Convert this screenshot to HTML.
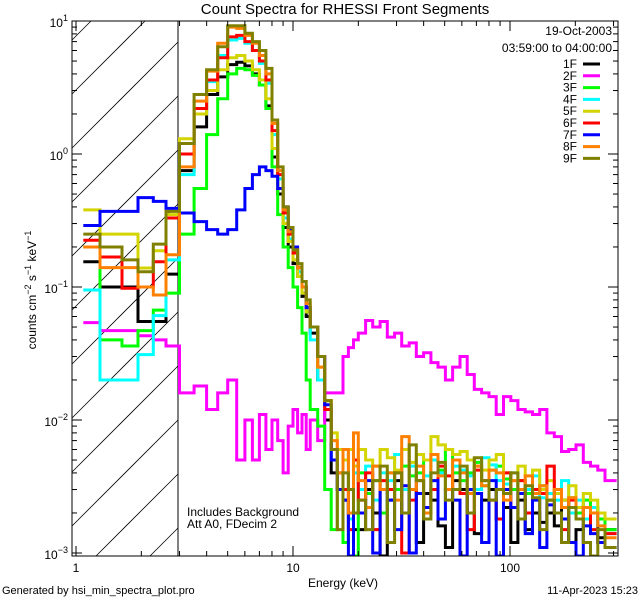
<!DOCTYPE html>
<html><head><meta charset="utf-8"><style>
html,body{margin:0;padding:0;background:#fff;width:640px;height:600px;overflow:hidden;}
svg{display:block;font-family:"Liberation Sans",sans-serif;}
</style></head><body>
<svg id="chart" width="640" height="600" viewBox="0 0 640 600" xmlns="http://www.w3.org/2000/svg">
<rect width="640" height="600" fill="#fff"/>
<defs><clipPath id="plotclip"><rect x="72" y="21" width="546" height="535"/></clipPath></defs>
<text x="345" y="14" font-size="15" text-anchor="middle">Count Spectra for RHESSI Front Segments</text>
<g id="hatch"></g>
<line x1="178" y1="21" x2="178" y2="556" stroke="#000" stroke-width="1"/>
<g id="series" clip-path="url(#plotclip)"></g>
<g id="axes"></g>
<text x="343" y="587" font-size="12" text-anchor="middle">Energy (keV)</text>
<text transform="translate(36,290) rotate(-90)" font-size="12" text-anchor="middle">counts cm<tspan dy="-5" font-size="9">−2</tspan><tspan dy="5"> s</tspan><tspan dy="-5" font-size="9">−1</tspan><tspan dy="5"> keV</tspan><tspan dy="-5" font-size="9">−1</tspan></text>
<text x="187" y="516" font-size="12">Includes Background</text>
<text x="187" y="528" font-size="12">Att A0, FDecim 2</text>
<text x="612" y="35" font-size="12" text-anchor="end">19-Oct-2003</text>
<text x="612" y="52" font-size="12" text-anchor="end">03:59:00 to 04:00:00</text>
<g id="legend"></g>
<text x="2" y="594" font-size="11">Generated by hsi_min_spectra_plot.pro</text>
<text x="638" y="594" font-size="11" text-anchor="end">11-Apr-2023 15:23</text>
</svg>
<script>
const edges=[1.08,1.29,1.63,1.93,2.27,2.6,3.0,3.5,4,4.5,5,5.5,6,6.5,7,7.5,8,8.5,9,9.5,10,10.5,11,11.5,12,13,14,15,16,17,18,19,20,21.6,23.3,25.2,27.2,29.4,31.7,34.3,37,40,43.2,46.6,50.4,54.4,58.8,63.5,68.5,74,80,86.4,93.3,100.8,108.8,117.5,127,137,148,160,172.7,186.5,201.5,217.6,235,253.8,274,310];
const seriesNames=["1F","2F","3F","4F","5F","6F","7F","8F","9F"];
const seriesColors=["#000000","#ff00ff","#00ff00","#00ffff","#d4d400","#ff0000","#0000ff","#ff8000","#808000"];
const s1F=[0.155,0.1,0.1,0.055,0.055,0.125, 0.75,1.6,2.8,3.8,4.7,4.9,4.6,4.0,3.3,2.3,0.95,0.5,0.28,0.2,0.15,0.12,0.085,0.06, 0.045,0.02,0.01,0.004,0.003,0.0025,0.002,0.0015, 0.0015,0.003,0.002,0.0009,0.0025,0.0035,0.002,0.003,0.0012,0.0028,0.0025,0.0016,0.0011,0.0035,0.003,0.002,0.0014,0.0025,0.003,0.0018,0.0022,0.0012,0.0025,0.0015,0.002,0.0017,0.002,0.0016,0.0025,0.0012,0.0015,0.0018,0.0022,0.0013,0.0015];
const s2F=[0.054,0.047,0.047,0.043,0.04,0.036, 0.016,0.018,0.012,0.016,0.02,0.005,0.01,0.005,0.011,0.006,0.01,0.007,0.004,0.009,0.012,0.008,0.011,0.006, 0.01,0.007,0.016,0.016,0.016,0.03,0.035,0.04, 0.045,0.056,0.05,0.055,0.042,0.045,0.036,0.038,0.03,0.032,0.027,0.025,0.02,0.025,0.03,0.022,0.017,0.016,0.015,0.011,0.015,0.014,0.012,0.0115,0.011,0.012,0.008,0.0075,0.0058,0.006,0.0065,0.0048,0.0045,0.0042,0.0035];
const s3F=[0.2,0.04,0.036,0.047,0.067,0.09, 0.25,0.55,1.4,2.6,4.0,4.4,4.3,3.9,3.3,2.2,0.8,0.35,0.2,0.14,0.1,0.07,0.045,0.02, 0.012,0.009,0.003,0.0015,0.003,0.0012,0.002,0.0008, 0.004,0.0028,0.0035,0.002,0.004,0.003,0.0045,0.0038,0.004,0.005,0.0035,0.0042,0.006,0.004,0.0035,0.004,0.0048,0.0032,0.0042,0.0045,0.0036,0.003,0.0035,0.0028,0.003,0.0032,0.0025,0.0028,0.0022,0.0026,0.002,0.0025,0.0022,0.0018,0.0015];
const s4F=[0.095,0.02,0.02,0.031,0.061,0.16, 0.7,2.0,3.5,5.5,7.2,7.4,6.8,6.0,4.8,3.4,1.4,0.65,0.33,0.23,0.16,0.13,0.09,0.065, 0.04,0.02,0.012,0.005,0.004,0.006,0.0018,0.004, 0.003,0.0045,0.0025,0.004,0.0035,0.0055,0.003,0.0045,0.0028,0.0038,0.005,0.004,0.003,0.0045,0.0042,0.0038,0.003,0.0052,0.0046,0.0035,0.0033,0.004,0.0028,0.003,0.0038,0.0026,0.0028,0.0025,0.0035,0.002,0.0025,0.0018,0.0022,0.0016,0.0014];
const s5F=[0.38,0.25,0.25,0.139,0.187,0.35, 1.3,2.0,3.0,4.3,5.3,5.5,5.0,4.3,3.6,2.6,1.1,0.55,0.3,0.22,0.16,0.12,0.09,0.065, 0.05,0.025,0.014,0.008,0.006,0.005,0.006,0.0045, 0.006,0.005,0.0045,0.006,0.0052,0.0042,0.006,0.0048,0.0055,0.005,0.0075,0.0065,0.006,0.0055,0.0058,0.005,0.0045,0.0042,0.005,0.0055,0.004,0.0035,0.0045,0.0038,0.0042,0.003,0.0035,0.0028,0.0025,0.0032,0.0022,0.0028,0.0025,0.002,0.0018];
const s6F=[0.225,0.168,0.098,0.1,0.155,0.33, 1.0,2.2,3.6,5.3,7.6,7.8,7.0,6.0,5.0,3.6,1.5,0.7,0.36,0.25,0.18,0.14,0.1,0.07, 0.05,0.03,0.012,0.006,0.004,0.003,0.0015,0.005, 0.0025,0.004,0.0015,0.0035,0.003,0.004,0.001,0.0025,0.0035,0.002,0.003,0.0045,0.0038,0.003,0.0028,0.0015,0.0042,0.0035,0.0025,0.0018,0.004,0.0022,0.0035,0.002,0.003,0.0028,0.0045,0.002,0.0015,0.0025,0.0018,0.0022,0.0015,0.0012,0.0014];
const s7F=[0.29,0.37,0.37,0.47,0.44,0.39, 0.36,0.31,0.27,0.25,0.27,0.38,0.55,0.7,0.8,0.75,0.68,0.55,0.4,0.27,0.2,0.14,0.1,0.07, 0.05,0.03,0.013,0.005,0.003,0.0025,0.0009,0.002, 0.002,0.0035,0.001,0.003,0.0025,0.0015,0.0032,0.001,0.0028,0.0022,0.0035,0.0018,0.003,0.0025,0.0009,0.003,0.0028,0.0012,0.0035,0.0009,0.003,0.0022,0.0028,0.0014,0.0025,0.0011,0.0023,0.002,0.0018,0.0012,0.0009,0.0016,0.0014,0.0012,0.0011];
const s8F=[0.2,0.14,0.14,0.1,0.087,0.175, 0.8,2.5,4.2,6.8,9.0,8.8,7.8,6.8,5.5,4.0,1.7,0.75,0.38,0.26,0.19,0.14,0.1,0.075, 0.05,0.025,0.014,0.007,0.004,0.006,0.002,0.008, 0.0035,0.0022,0.0045,0.003,0.004,0.0025,0.0075,0.003,0.0045,0.002,0.0055,0.0038,0.003,0.005,0.004,0.0028,0.0045,0.0032,0.0042,0.004,0.0025,0.0035,0.003,0.0038,0.0028,0.0032,0.0025,0.003,0.0022,0.0026,0.0018,0.0022,0.002,0.0016,0.0013];
const s9F=[0.25,0.2,0.16,0.13,0.21,0.37, 1.2,2.8,4.3,6.4,9.2,9.2,8.1,7.0,6.0,4.4,1.8,0.8,0.4,0.28,0.19,0.15,0.11,0.08, 0.05,0.03,0.014,0.006,0.0015,0.004,0.003,0.002, 0.0025,0.0015,0.0035,0.0045,0.0012,0.004,0.002,0.0065,0.0035,0.0018,0.004,0.0048,0.0025,0.003,0.0045,0.002,0.0052,0.0035,0.0025,0.003,0.0028,0.004,0.0018,0.0032,0.0026,0.0015,0.0025,0.002,0.0012,0.0022,0.0018,0.0012,0.0009,0.0015,0.0011];
const seriesValues=[s1F,s2F,s3F,s4F,s5F,s6F,s7F,s8F,s9F];
const yTickExps=[1,0,-1,-2,-3];
const xTickLabels=["1","10","100"];
const xTickValues=[1,10,100];

const NS="http://www.w3.org/2000/svg";
const PL=72,PR=618,PT=21,PB=556,HX=178;
function xs(e){return 293+217*Math.log10(e/10);}
function ys(v){return 21+133*(1-Math.log10(Math.max(v,1e-4)));}
function clampY(y){return Math.min(Math.max(y,PT),PB);}
function mk(tag,attrs,parent){const el=document.createElementNS(NS,tag);for(const k in attrs)el.setAttribute(k,attrs[k]);parent.appendChild(el);return el;}

const hatch=document.getElementById('hatch');
for(let k=-12;k<14;k++){
  const y0=PB-30+k*54;
  const xa=PL+Math.max(0,y0-PB);
  const xb=PL+Math.min(HX-PL,y0-PT);
  if(xb<=xa) continue;
  const ln=mk('line',{x1:xa,y1:y0-(xa-PL),x2:xb,y2:y0-(xb-PL),stroke:'#000','stroke-width':0.8},hatch);
  
  
}

const sg=document.getElementById('series');
seriesValues.forEach((vals,si)=>{
  let pts=[];
  for(let i=0;i<vals.length;i++){
    const y=clampY(ys(vals[i]));
    pts.push(xs(edges[i]).toFixed(1)+','+y.toFixed(1));
    pts.push(Math.min(xs(edges[i+1]),PR).toFixed(1)+','+y.toFixed(1));
  }
  const pl=mk('polyline',{points:pts.join(' '),fill:'none',stroke:seriesColors[si],'stroke-width':3,'stroke-linejoin':'miter'},sg);
  
  
});

const ax=document.getElementById('axes');
const frame=mk('rect',{x:PL,y:PT,width:PR-PL,height:PB-PT,fill:'none',stroke:'#000','stroke-width':1},ax);


for(let d=0;d<3;d++){
  for(let m=1;m<10;m++){
    const e=Math.pow(10,d)*m; const x=xs(e);
    if(x<PL||x>PR) continue;
    const len=m===1?10:5;
    const t1=mk('line',{x1:x,y1:PB,x2:x,y2:PB-len,stroke:'#000'},ax);
    
    
    const t2=mk('line',{x1:x,y1:PT,x2:x,y2:PT+len,stroke:'#000'},ax);
    
    
  }
}
xTickValues.forEach((v,i)=>{
  const t=mk('text',{x:xs(v),y:PB+16,'font-size':12,'text-anchor':'middle'},ax);
  t.textContent=xTickLabels[i];
  
  
});
for(let p=-3;p<=1;p++){
  for(let m=1;m<10;m++){
    const v=Math.pow(10,p)*m; const y=ys(v);
    if(y<PT-0.5||y>PB) continue;
    const len=m===1?10:5;
    const t1=mk('line',{x1:PL,y1:y,x2:PL+len,y2:y,stroke:'#000'},ax);
    
    
    const t2=mk('line',{x1:PR,y1:y,x2:PR-len,y2:y,stroke:'#000'},ax);
    
    
  }
}
yTickExps.forEach(p=>{
  const y=ys(Math.pow(10,p));
  const t=mk('text',{x:68,y:y+6,'font-size':12,'text-anchor':'end'},ax);
  
  
  t.textContent='10';
  const s=mk('tspan',{dy:-6,'font-size':9},t);
  s.textContent=p<0?('−'+(-p)):String(p);
});

const lg=document.getElementById('legend');
seriesNames.forEach((n,i)=>{
  const y=64+i*11.8;
  const t=mk('text',{x:577,y:y+4,'font-size':12,'text-anchor':'end'},lg);
  t.textContent=n;
  
  
  const l=mk('line',{x1:583,y1:y,x2:600,y2:y,stroke:seriesColors[i],'stroke-width':3},lg);
  
  
});
</script>
</body></html>
